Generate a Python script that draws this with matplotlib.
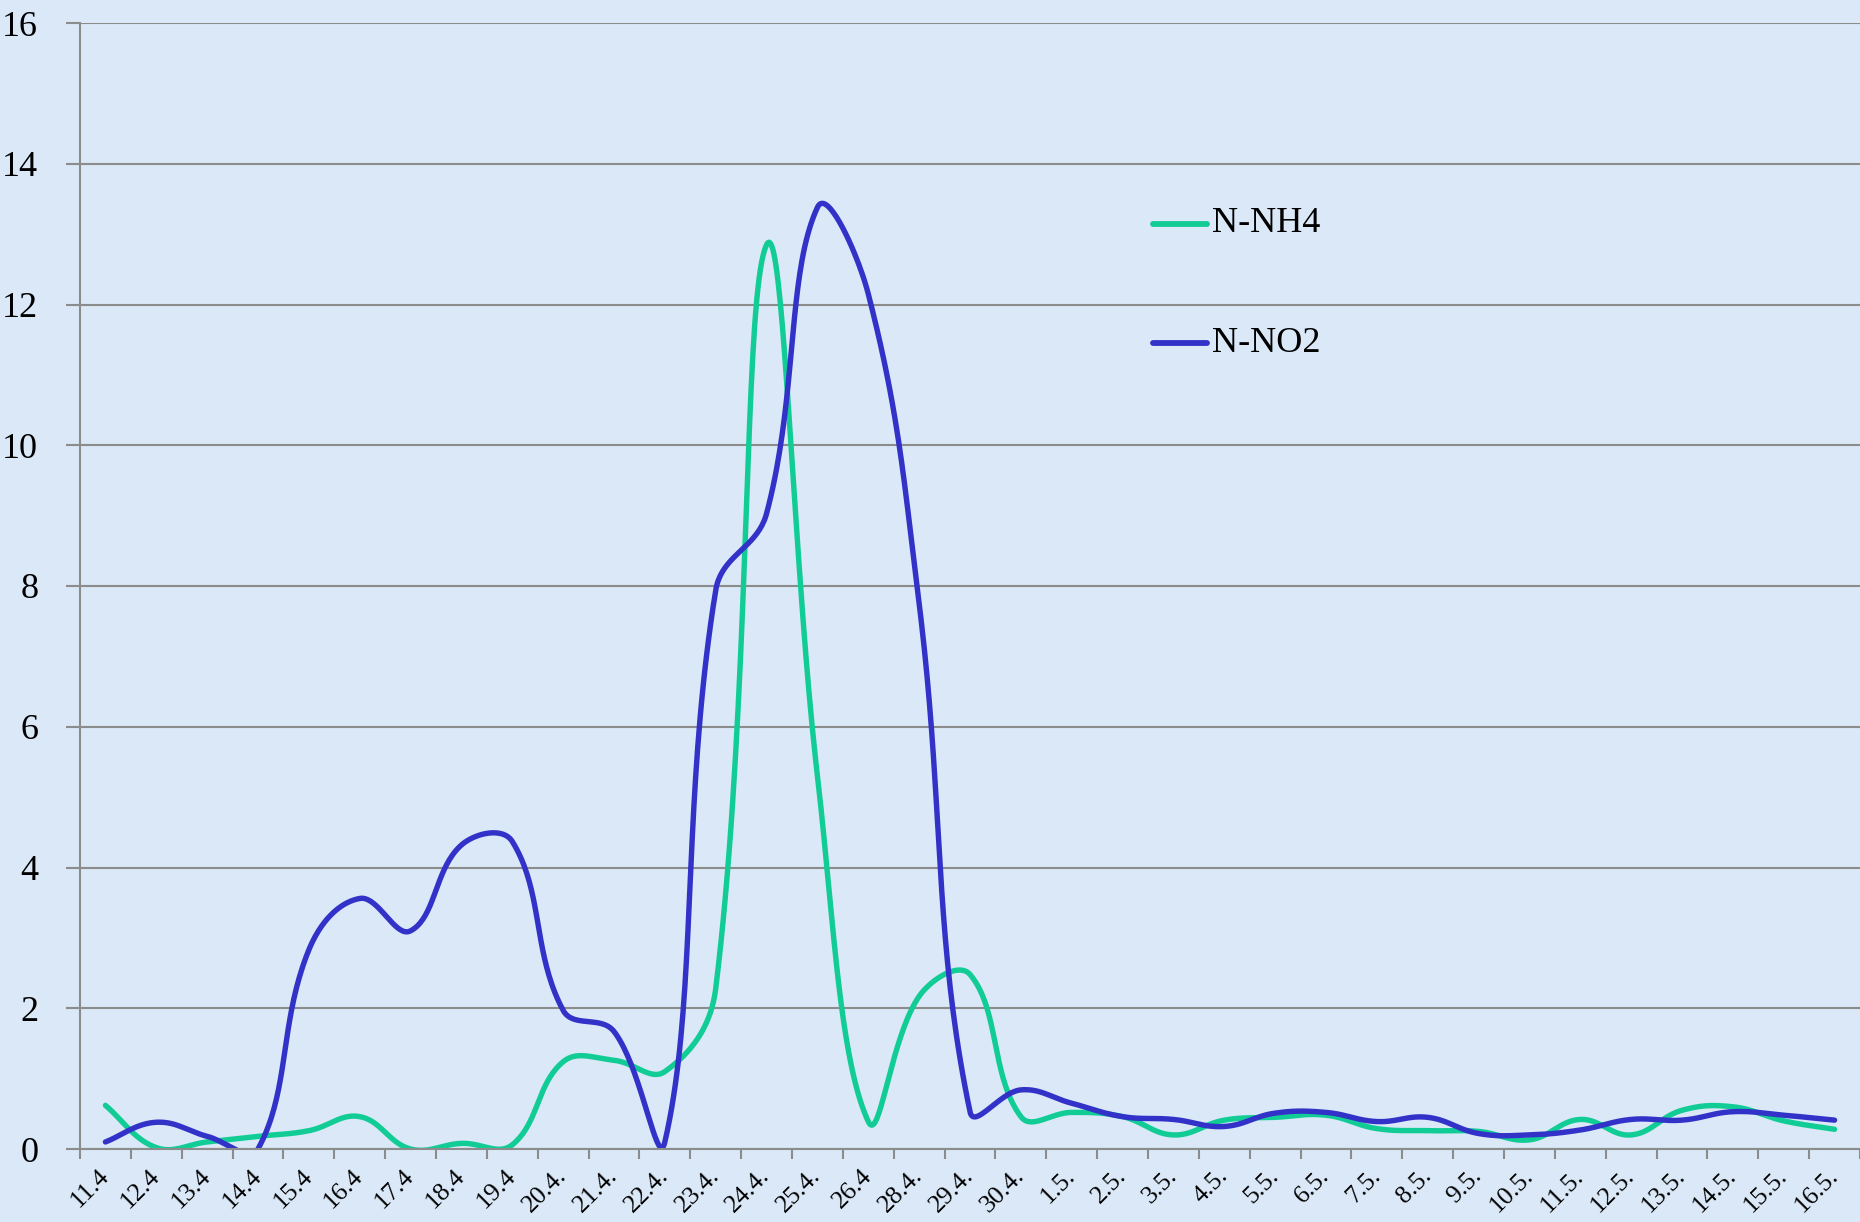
import numpy as np
import matplotlib
matplotlib.use("Agg")
import matplotlib.pyplot as plt
from matplotlib.lines import Line2D

# Sampling dates (day.month)
dates = ["11.4", "12.4", "13.4", "14.4", "15.4", "16.4", "17.4", "18.4", "19.4",
         "20.4.", "21.4.", "22.4.", "23.4.", "24.4.", "25.4.", "26.4", "28.4.",
         "29.4.", "30.4.", "1.5.", "2.5.", "3.5.", "4.5.", "5.5.", "6.5.", "7.5.",
         "8.5.", "9.5.", "10.5.", "11.5.", "12.5.", "13.5.", "14.5.", "15.5.", "16.5."]

# Concentrations
n_nh4 = [0.62, 0.02, 0.10, 0.18, 0.26, 0.46, 0.0, 0.08, 0.06,
         1.24, 1.26, 1.10, 2.28, 12.85, 5.3, 0.39, 2.17,
         2.48, 0.46, 0.52, 0.46, 0.20, 0.41, 0.45, 0.48, 0.29,
         0.26, 0.25, 0.13, 0.42, 0.20, 0.55, 0.60, 0.40, 0.28]

n_no2 = [0.10, 0.38, 0.18, 0.0, 2.83, 3.56, 3.10, 4.32, 4.37,
         1.97, 1.67, 0.10, 7.94, 9.03, 13.38, 12.15, 7.75,
         0.53, 0.84, 0.65, 0.46, 0.42, 0.32, 0.51, 0.52, 0.39,
         0.45, 0.22, 0.20, 0.27, 0.42, 0.41, 0.53, 0.48, 0.41]

series_labels = ["N-NH4", "N-NO2"]
series_colors = ["#12CC96", "#3232C8"]

y_ticks = [0, 2, 4, 6, 8, 10, 12, 14, 16]

BG = "#DAE8F7"
GRID = "#8C8C8C"
SERIF = "Liberation Serif"

FIG_W, FIG_H = 1860, 1222
AX_L, AX_R, AX_T, AX_B = 80, 1860, 23, 1149
Y_MAX = 16
TENSION = 0.4


def smooth_curve(values, px_x, px_y, samples=40):
    """Cardinal-spline style Bezier smoothing through every point; handle
    lengths are split in proportion to the on-screen segment lengths."""
    y = np.asarray(values, dtype=float)
    n = len(y)
    P = np.column_stack([np.arange(n) * px_x, y * px_y])
    seg = np.linalg.norm(np.diff(P, axis=0), axis=1)

    h_in = np.zeros_like(P)
    h_out = np.zeros_like(P)
    for i in range(n):
        prev_i = max(i - 1, 0)
        next_i = min(i + 1, n - 1)
        d = P[next_i] - P[prev_i]
        if i == 0 or i == n - 1:
            # end points: handle along the single segment
            h_in[i] = h_out[i] = d / 3.0
            continue
        d_prev, d_next = seg[i - 1], seg[i]
        tot = d_prev + d_next
        h_in[i] = d * TENSION * d_prev / tot
        h_out[i] = d * TENSION * d_next / tot

    xs, ys = [], []
    for i in range(n - 1):
        p0, p3 = P[i], P[i + 1]
        c1 = p0 + h_out[i]
        c2 = p3 - h_in[i + 1]
        t = np.linspace(0, 1, samples, endpoint=(i == n - 2))[:, None]
        pts = ((1 - t) ** 3) * p0 + 3 * ((1 - t) ** 2) * t * c1 \
            + 3 * (1 - t) * t ** 2 * c2 + t ** 3 * p3
        xs.append(pts[:, 0] / px_x)
        ys.append(pts[:, 1] / px_y)
    return np.concatenate(xs), np.concatenate(ys)


fig = plt.figure(figsize=(FIG_W / 100, FIG_H / 100), dpi=100, facecolor=BG)
ax = fig.add_axes([AX_L / FIG_W, 1 - AX_B / FIG_H,
                   (AX_R - AX_L) / FIG_W, (AX_B - AX_T) / FIG_H])
ax.set_facecolor(BG)

n = len(dates)
px_per_cat = (AX_R - AX_L) / n
px_per_unit = (AX_B - AX_T) / Y_MAX

for vals, color, label in zip([n_nh4, n_no2], series_colors, series_labels):
    sx, sy = smooth_curve(vals, px_per_cat, px_per_unit)
    ax.plot(sx, sy, color=color, lw=3.9, solid_capstyle="round",
            solid_joinstyle="round", label=label, zorder=3)

ax.set_xlim(-0.5, n - 0.5)
ax.set_ylim(0, Y_MAX)

# horizontal gridlines
ax.set_yticks(y_ticks)
ax.yaxis.grid(True, color=GRID, lw=1.5)
ax.xaxis.grid(False)
ax.set_axisbelow(True)

# category boundaries as major ticks, labels at category centres
ax.set_xticks(np.arange(n + 1) - 0.5)
ax.set_xticklabels([])
ax.set_xticks(np.arange(n), minor=True)
ax.set_xticklabels(dates, minor=True, rotation=45, ha="right", va="center",
                   rotation_mode="anchor", fontsize=18.5, fontfamily=SERIF)
ax.tick_params(axis="x", which="major", direction="out", length=7, width=1.5, color=GRID)
ax.tick_params(axis="x", which="minor", length=0, pad=17)
ax.tick_params(axis="y", direction="out", length=10, width=1.5, color=GRID, pad=20)
for lab in ax.get_yticklabels():
    lab.set_fontfamily(SERIF)
    lab.set_fontsize(26)

for side in ["top", "right"]:
    ax.spines[side].set_visible(False)
for side in ["left", "bottom"]:
    ax.spines[side].set_color(GRID)
    ax.spines[side].set_linewidth(1.5)
ax.spines["bottom"].set_zorder(4)

# legend entries
legend_rows = [224, 343]
for row, color, label in zip(legend_rows, series_colors, series_labels):
    yf = 1 - row / FIG_H
    fig.add_artist(Line2D([1153 / FIG_W, 1207 / FIG_W], [yf, yf], color=color, lw=4.2,
                          solid_capstyle="round"))
    fig.text(1212 / FIG_W, yf, label, fontsize=26, fontfamily=SERIF, va="center", ha="left")

fig.savefig("out.png", dpi=100, facecolor=BG)
